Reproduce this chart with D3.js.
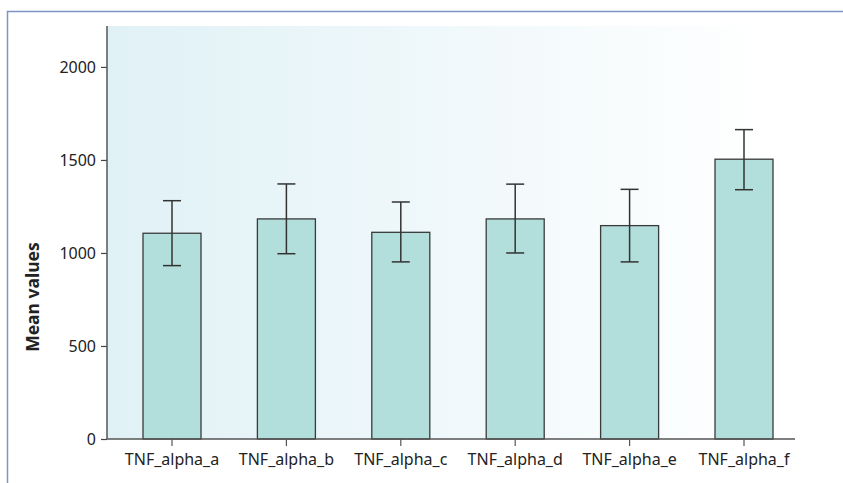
<!DOCTYPE html>
<html><head><meta charset="utf-8">
<script src="https://cdn.jsdelivr.net/npm/d3@7"></script>
<style>body{margin:0;background:#fff;}svg{display:block;}</style>
</head><body>
<svg id="c" width="843" height="483"></svg>
<script>
const categories = ["TNF_alpha_a","TNF_alpha_b","TNF_alpha_c","TNF_alpha_d","TNF_alpha_e","TNF_alpha_f"];
const meanValues = [1106, 1183, 1111, 1183, 1147, 1504];
const errLow = [932, 996, 952, 1000, 952, 1340];
const errHigh = [1281, 1371, 1274, 1370, 1342, 1663];
const yTicks = [0, 500, 1000, 1500, 2000];
const yLabel = "Mean values";

(function(){
const svg = d3.select("#c");
const pL = 107, pR = 795, pT = 26, pB = 439;
const font = "'Noto Sans', sans-serif";

// frame
svg.append("rect").attr("x",7.5).attr("y",11.5).attr("width",900).attr("height",600)
  .attr("fill","none").attr("stroke","#7d95c2").attr("stroke-width",1.5);

const defs = svg.append("defs");
const g = defs.append("linearGradient").attr("id","bg").attr("x1","0").attr("x2","1").attr("y1","0").attr("y2","0");
g.append("stop").attr("offset","0").attr("stop-color","#e0f1f6");
g.append("stop").attr("offset","0.97").attr("stop-color","#ffffff");

const y = d3.scaleLinear().domain([0, 2220]).range([pB, pT]);
const x = d3.scaleBand().domain(categories).range([114.8, 801.2]).paddingInner(0.493).paddingOuter(0.2465);

svg.append("rect").attr("x",pL).attr("y",pT).attr("width",pR-pL).attr("height",pB-pT).attr("fill","url(#bg)");

const data = categories.map((c,i)=>({c, v:meanValues[i], lo:errLow[i], hi:errHigh[i]}));

svg.selectAll("rect.bar").data(data).enter().append("rect").attr("class","bar")
  .attr("x",d=>x(d.c)).attr("y",d=>y(d.v)).attr("width",x.bandwidth()).attr("height",d=>y(0)-y(d.v))
  .attr("fill","#b2dfdb").attr("stroke","#3a3a3a").attr("stroke-width",1.3);

const eb = svg.selectAll("g.eb").data(data).enter().append("g").attr("stroke","#333").attr("stroke-width",1.5);
const cx = d=>x(d.c)+x.bandwidth()/2;
eb.append("line").attr("x1",cx).attr("x2",cx).attr("y1",d=>y(d.lo)).attr("y2",d=>y(d.hi));
eb.append("line").attr("x1",d=>cx(d)-9).attr("x2",d=>cx(d)+9).attr("y1",d=>y(d.hi)).attr("y2",d=>y(d.hi));
eb.append("line").attr("x1",d=>cx(d)-9).attr("x2",d=>cx(d)+9).attr("y1",d=>y(d.lo)).attr("y2",d=>y(d.lo));

// y axis
const ya = svg.append("g").attr("transform",`translate(${pL},0)`)
  .call(d3.axisLeft(y).tickValues(yTicks).tickFormat(d3.format("d")).tickSize(6).tickPadding(5).tickSizeOuter(0));
ya.select(".domain").remove();
ya.append("line").attr("x1",0).attr("x2",0).attr("y1",pT).attr("y2",pB).attr("stroke","#555").attr("stroke-width",1.5);
ya.selectAll(".tick line").attr("stroke","#444").attr("stroke-width",1.2);
ya.selectAll("text").attr("font-family",font).attr("font-size",16).attr("fill","#222");

// x axis
const xa = svg.append("g").attr("transform",`translate(0,${pB})`)
  .call(d3.axisBottom(x).tickSize(7).tickPadding(8).tickSizeOuter(0));
xa.select(".domain").remove();
xa.append("line").attr("x1",pL).attr("x2",pR).attr("y1",0).attr("y2",0).attr("stroke","#555").attr("stroke-width",1.5);
xa.selectAll(".tick line").attr("stroke","#555").attr("stroke-width",1.2);
xa.selectAll("text").attr("font-family",font).attr("font-size",16).attr("fill","#222");

svg.append("text").attr("transform","translate(39,297) rotate(-90)").attr("text-anchor","middle")
  .attr("font-family",font).attr("font-size",17.5).attr("font-weight","bold").attr("fill","#222").text(yLabel);
})();
</script>
</body></html>
